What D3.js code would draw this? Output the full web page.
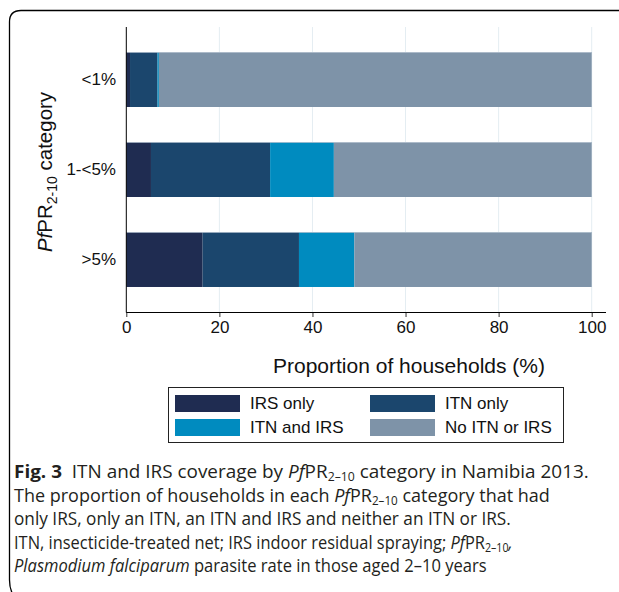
<!DOCTYPE html>
<html><head><meta charset="utf-8">
<script src="https://cdn.jsdelivr.net/npm/d3@7"></script>
<style>html,body{margin:0;padding:0;background:#fff;}</style>
</head><body>
<svg id="c" width="619" height="592"></svg>
<script>
const categories = ["<1%", "1-<5%", ">5%"];
const seriesNames = ["IRS only", "ITN only", "ITN and IRS", "No ITN or IRS"];
const irsOnly   = [0.8, 5.3, 16.4];
const itnOnly   = [5.9, 25.6, 20.7];
const itnAndIrs = [0.3, 13.7, 11.9];
const noItnIrs  = [93.0, 55.4, 51.0];
const xTicks = [0, 20, 40, 60, 80, 100];
const colors = ["#1f2c51", "#1b466d", "#008bbf", "#7e93a8"];

const svg = d3.select("#c");
const F = "Liberation Sans, Arial, Helvetica, sans-serif";

// frame
svg.append("path")
  .attr("d", "M619,10.5 H21 Q9.5,10.5 9.5,22 V580 Q9.5,590 14,596")
  .attr("fill", "none").attr("stroke", "#000").attr("stroke-width", 1.3);

const x = d3.scaleLinear().domain([0, 100]).range([126.3, 591.7]);
const y = d3.scaleBand().domain(categories).range([27, 312]).paddingInner(0.389).paddingOuter(0.278);

// grid
svg.append("g").selectAll("line").data(xTicks.slice(1)).join("line")
  .attr("x1", d => x(d)).attr("x2", d => x(d))
  .attr("y1", 27).attr("y2", 312)
  .attr("stroke", "#e4edf2").attr("stroke-width", 1);

// stacked data
const rows = categories.map((c, i) => ({cat: c, "IRS only": irsOnly[i], "ITN only": itnOnly[i], "ITN and IRS": itnAndIrs[i], "No ITN or IRS": noItnIrs[i]}));
const stack = d3.stack().keys(seriesNames)(rows);

svg.append("g").selectAll("g").data(stack).join("g")
  .attr("fill", (d, i) => colors[i])
  .selectAll("rect").data(d => d).join("rect")
  .attr("x", d => x(d[0]))
  .attr("width", d => Math.max(0, x(d[1]) - x(d[0])))
  .attr("y", d => y(d.data.cat))
  .attr("height", y.bandwidth());

// bar top highlight
svg.append("g").selectAll("line").data(categories).join("line")
  .attr("x1", x(0)).attr("x2", x(100))
  .attr("y1", d => y(d) + 0.5).attr("y2", d => y(d) + 0.5)
  .attr("stroke", "#b9c6d3").attr("stroke-width", 1).attr("opacity", 0.8);

// x axis
const xa = svg.append("g").attr("transform", "translate(0,312)")
  .call(d3.axisBottom(x).tickValues(xTicks).tickSize(5).tickPadding(4).tickSizeOuter(0));
xa.select(".domain").remove();
xa.append("line").attr("x1", x(0)).attr("x2", 606).attr("y1", 0.5).attr("y2", 0.5).attr("stroke", "#000");
xa.selectAll(".tick line").attr("stroke", "#333");
xa.selectAll("text").attr("font-family", F).attr("font-size", 17).attr("fill", "#111");

// y axis
svg.append("line").attr("x1", 126.3).attr("x2", 126.3).attr("y1", 27).attr("y2", 312.5).attr("stroke", "#000");
svg.append("g").selectAll("text").data(categories).join("text")
  .attr("x", 116).attr("y", d => y(d) + y.bandwidth() / 2)
  .attr("dy", "0.35em").attr("text-anchor", "end")
  .attr("font-family", F).attr("font-size", 17).attr("fill", "#111")
  .text(d => d);

// axis titles
svg.append("text").attr("x", 409).attr("y", 373).attr("text-anchor", "middle")
  .attr("font-family", F).attr("font-size", 21).attr("fill", "#111")
  .text("Proportion of households (%)");

const yt = svg.append("text").attr("transform", "translate(52,172) rotate(-90)")
  .attr("text-anchor", "middle").attr("font-family", F).attr("font-size", 20.5).attr("fill", "#111");
yt.append("tspan").attr("font-style", "italic").text("Pf");
yt.append("tspan").text("PR");
yt.append("tspan").attr("font-size", 14).attr("dy", 5).text("2-10");
yt.append("tspan").attr("dy", -5).text(" category");

// legend
svg.append("rect").attr("x", 168.5).attr("y", 387.5).attr("width", 395).attr("height", 55)
  .attr("fill", "#fff").attr("stroke", "#222").attr("stroke-width", 1);
const lg = svg.append("g").selectAll("g").data(seriesNames).join("g")
  .attr("transform", (d, i) => `translate(${i % 2 === 0 ? 175 : 370},${i < 2 ? 395 : 419})`);
lg.append("rect").attr("width", 65).attr("height", 17).attr("fill", (d, i) => colors[i]);
lg.append("text").attr("x", 75).attr("y", 8.5).attr("dy", "0.35em")
  .attr("font-family", F).attr("font-size", 17).attr("fill", "#111").text(d => d);

// caption
const CF = "'Open Sans', 'Noto Sans', sans-serif";
const capLines = [
  [["Fig. 3", "b"], ["  ITN and IRS coverage by ", ""], ["Pf", "i"], ["PR", ""], ["2–10", "s"], [" category in Namibia 2013.", "u"]],
  [["The proportion of households in each ", ""], ["Pf", "i"], ["PR", ""], ["2–10", "s"], [" category that had", "u"]],
  [["only IRS, only an ITN, an ITN and IRS and neither an ITN or IRS.", ""]],
  [["ITN, insecticide-treated net; IRS indoor residual spraying; ", ""], ["Pf", "i"], ["PR", ""], ["2–10", "s"], [",", "ui"]],
  [["Plasmodium falciparum", "i"], [" parasite rate in those aged 2–10 years", ""]]
];
const capEnds = [589, 550, 511, 513, 487];
const capBase = [478, 501.5, 525, 548.5, 572];
capLines.forEach((line, li) => {
  const t = svg.append("text").attr("font-family", CF).attr("font-size", 18.5).attr("fill", "#231f20")
    .attr("xml:space", "preserve").style("white-space", "pre");
  line.forEach(([s, k]) => {
    const ts = t.append("tspan").text(s);
    if (k === "b") ts.attr("font-weight", "bold");
    if (k.includes("i")) ts.attr("font-style", "italic");
    if (k === "s") ts.attr("font-size", 12).attr("dy", 3);
    if (k.includes("u")) ts.attr("dy", -3);
  });
  const w = t.node().getComputedTextLength();
  const sx = (capEnds[li] - 14) / w;
  t.attr("transform", `translate(14,${capBase[li]}) scale(${sx},1)`);
});
</script>
</body></html>
